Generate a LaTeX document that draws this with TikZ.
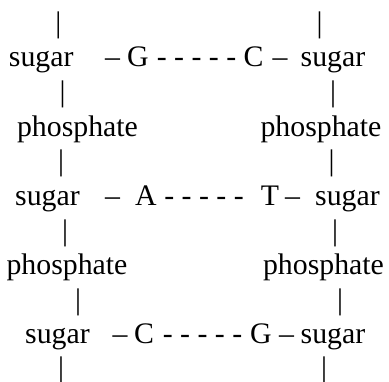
\documentclass[tikz,border=0pt]{standalone}
\usepackage{fontspec}
\setmainfont{Liberation Serif}
\begin{document}
\begin{tikzpicture}[x=1pt,y=-1pt,
  txt/.style={anchor=base, inner sep=0pt, outer sep=0pt, font=\fontsize{29.8}{35}\selectfont}]
\useasboundingbox (0,0) rectangle (389,381);
% row 0
\node[txt] (b0l) at (58.3,32.5) {|};
\node[txt] (b0r) at (319.7,32.5) {|};
% row 1
\node[txt] (s1l) at (41.2,66.8) {sugar};
\node[txt] (d1l) at (112.5,66.8) {\textendash};
\node[txt] (G1) at (138,66.8) {G};
\node[txt] (h1) at (196.5,66.8) {- - - - -};
\node[txt] (C1) at (253.5,66.8) {C};
\node[txt] (d1r) at (280,66.8) {\textendash};
\node[txt] (s1r) at (333,66.8) {sugar};
% row 2
\node[txt] (b2l) at (62.7,101.3) {|};
\node[txt] (b2r) at (333,101.3) {|};
% row 3
\node[txt] (p3l) at (77.5,136.5) {phosphate};
\node[txt] (p3r) at (321,136.5) {phosphate};
% row 4
\node[txt] (b4l) at (61,170.8) {|};
\node[txt] (b4r) at (331.5,170.8) {|};
% row 5
\node[txt] (s5l) at (47.5,205.5) {sugar};
\node[txt] (d5l) at (112.5,205.5) {\textendash};
\node[txt] (A5) at (146,205.5) {A};
\node[txt] (h5) at (204,205.5) {- - - - -};
\node[txt] (T5) at (270,205.5) {T};
\node[txt] (d5r) at (292.5,205.5) {\textendash};
\node[txt] (s5r) at (347.5,205.5) {sugar};
% row 6
\node[txt] (b6l) at (65,240) {|};
\node[txt] (b6r) at (335,240) {|};
% row 7
\node[txt] (p7l) at (67,274.5) {phosphate};
\node[txt] (p7r) at (323.5,274.5) {phosphate};
% row 8
\node[txt] (b8l) at (78,309) {|};
\node[txt] (b8r) at (340,309) {|};
% row 9
\node[txt] (s9l) at (57.5,343) {sugar};
\node[txt] (d9l) at (120,343) {\textendash};
\node[txt] (C9) at (144,343) {C};
\node[txt] (h9) at (202.5,343) {- - - - -};
\node[txt] (G9) at (261,343) {G};
\node[txt] (d9r) at (286.5,343) {\textendash};
\node[txt] (s9r) at (333,343) {sugar};
% row 10
\node[txt] (b10l) at (61,377.5) {|};
\node[txt] (b10r) at (324,377.5) {|};
\end{tikzpicture}
\end{document}
